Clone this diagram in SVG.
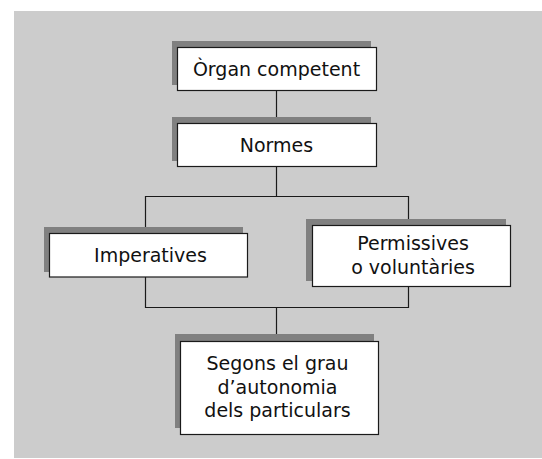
<svg xmlns="http://www.w3.org/2000/svg" width="542" height="459" viewBox="0 0 542 459">
  <style>
    .bg { fill: #cccccc; }
    .shadow { fill: #808080; }
    .box { fill: #ffffff; stroke: #1a1a1a; stroke-width: 1.2; }
    .lbl { font-family: "DejaVu Sans", "Open Sans", sans-serif; font-size: 19px; fill: #111111; text-anchor: middle; }
    .conn { fill: none; stroke: #1a1a1a; stroke-width: 1.2; }
  </style>

  <!-- panel -->
  <rect class="bg" x="14" y="11" width="528" height="447"/>

  <!-- connectors -->
  <g id="connectors">
    <path class="conn" d="M276.5 91 V123"/>
    <path class="conn" d="M276.5 167 V196.5"/>
    <path class="conn" d="M145.5 233 V196.5 H408.5 V225"/>
    <path class="conn" d="M145.5 277 V307.5 H408.5 V287"/>
    <path class="conn" d="M276.5 307.5 V341"/>
  </g>

  <g id="organ">
    <rect class="shadow" x="172" y="41" width="199" height="44"/>
    <rect class="box" x="177.5" y="47.5" width="199" height="43"/>
    <text class="lbl" x="276.5" y="75.5">Òrgan competent</text>
  </g>

  <g id="normes">
    <rect class="shadow" x="172" y="117" width="199" height="44"/>
    <rect class="box" x="177.5" y="123.5" width="199" height="43"/>
    <text class="lbl" x="276.5" y="151.5">Normes</text>
  </g>

  <g id="imperatives">
    <rect class="shadow" x="44" y="227" width="199" height="45"/>
    <rect class="box" x="49.5" y="233.5" width="198" height="43.5"/>
    <text class="lbl" x="150.5" y="261.5">Imperatives</text>
  </g>

  <g id="permissives">
    <rect class="shadow" x="306" y="219" width="200" height="62"/>
    <rect class="box" x="312.5" y="225.5" width="198" height="61"/>
    <text class="lbl" x="413" y="250">Permissives<tspan x="413" dy="23.5">o voluntàries</tspan></text>
  </g>

  <g id="segons">
    <rect class="shadow" x="175" y="334" width="199" height="94"/>
    <rect class="box" x="180.5" y="341.5" width="198" height="93"/>
    <text class="lbl" x="277.5" y="370">Segons el grau<tspan x="277.5" dy="23.5">d’autonomia</tspan><tspan x="277.5" dy="23.5">dels particulars</tspan></text>
  </g>
</svg>
